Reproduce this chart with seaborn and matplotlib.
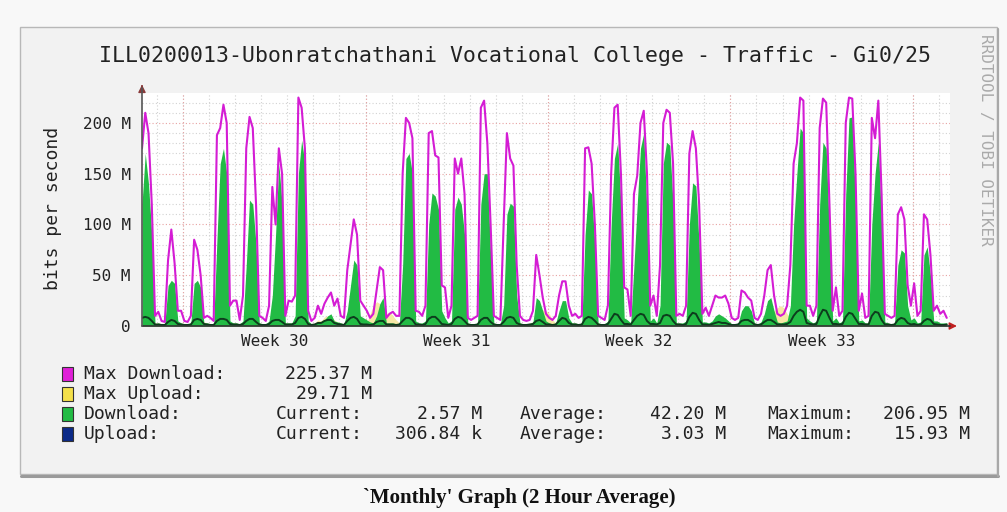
import numpy as np
import matplotlib
matplotlib.use("Agg")
import matplotlib.pyplot as plt
from matplotlib.patches import Rectangle
import seaborn as sns

# 2 hour averages resampled to 3 hour steps, values in Mbit/s
hours = np.arange(0, 744, 3)

max_download = [
    175, 210, 190, 120, 10, 14, 5, 4,
    65, 95, 62, 15, 15, 5, 4, 10,
    85, 75, 50, 8, 10, 8, 5, 188,
    195, 218, 200, 20, 25, 25, 6, 30,
    175, 206, 195, 120, 10, 8, 5, 20,
    137, 100, 175, 150, 10, 25, 24, 30,
    225, 215, 175, 15, 5, 8, 20, 12,
    22, 28, 33, 20, 27, 10, 8, 55,
    80, 105, 90, 25, 20, 15, 8, 12,
    35, 58, 55, 8, 12, 14, 10, 10,
    150, 205, 200, 185, 15, 14, 10, 20,
    190, 192, 168, 166, 40, 38, 8, 20,
    165, 150, 165, 130, 8, 6, 8, 10,
    215, 222, 180, 100, 10, 8, 6, 100,
    190, 165, 158, 60, 10, 6, 5, 6,
    15, 70, 50, 28, 12, 8, 6, 10,
    30, 44, 44, 20, 10, 12, 8, 10,
    175, 176, 160, 100, 10, 8, 6, 20,
    150, 215, 218, 150, 38, 36, 10, 130,
    148, 200, 212, 150, 20, 30, 10, 60,
    200, 213, 210, 160, 10, 12, 10, 20,
    170, 192, 175, 120, 12, 18, 10, 20,
    30, 28, 28, 30, 22, 8, 6, 8,
    35, 33, 28, 25, 8, 6, 12, 30,
    55, 60, 30, 12, 10, 12, 20, 60,
    160, 180, 225, 222, 20, 20, 10, 20,
    195, 224, 220, 120, 15, 38, 10, 15,
    200, 225, 224, 150, 15, 32, 8, 10,
    205, 185, 222, 130, 12, 10, 8, 10,
    110, 117, 105, 40, 20, 42, 10, 15,
    110, 105, 70, 15, 20, 12, 15, 8,
]

download = [
    120, 170, 140, 90, 2, 3, 2, 2,
    40, 45, 42, 5, 3, 2, 2, 3,
    42, 45, 38, 3, 3, 2, 2, 85,
    160, 175, 150, 5, 3, 3, 2, 5,
    60, 124, 120, 80, 3, 2, 2, 5,
    30, 90, 160, 120, 3, 3, 3, 10,
    150, 183, 160, 5, 2, 2, 4, 3,
    6, 10, 12, 5, 4, 3, 2, 15,
    40, 65, 60, 10, 8, 6, 4, 3,
    10, 22, 28, 3, 3, 3, 2, 3,
    60, 165, 170, 150, 5, 3, 3, 5,
    100, 131, 128, 115, 15, 8, 3, 5,
    115, 127, 120, 90, 3, 2, 2, 3,
    120, 150, 150, 70, 3, 2, 2, 20,
    110, 121, 118, 30, 3, 2, 2, 2,
    4, 28, 25, 15, 5, 3, 2, 3,
    15, 25, 25, 8, 3, 3, 2, 3,
    90, 134, 130, 80, 3, 2, 2, 5,
    100, 165, 180, 120, 8, 6, 3, 60,
    120, 175, 190, 110, 5, 8, 3, 20,
    160, 181, 178, 120, 3, 3, 3, 5,
    100, 141, 138, 80, 4, 4, 3, 5,
    10, 12, 10, 8, 5, 2, 2, 3,
    15, 20, 20, 15, 3, 2, 4, 12,
    25, 28, 15, 4, 3, 4, 5, 20,
    100, 150, 195, 190, 8, 5, 3, 5,
    120, 181, 175, 90, 5, 8, 3, 5,
    130, 205, 206, 120, 5, 6, 3, 3,
    100, 150, 181, 100, 4, 3, 2, 3,
    60, 75, 72, 20, 6, 8, 3, 4,
    70, 78, 50, 5, 5, 3, 3, 3,
]

upload = [
    8, 9, 8, 5, 1.5, 1.5, 1, 1,
    4, 6, 5, 2, 1.5, 1, 1, 1.5,
    6, 7, 6, 2, 1.5, 1, 1, 5,
    7, 7, 6, 2, 1.5, 1.5, 1, 2,
    5, 7, 7, 4, 1.5, 1, 1, 2,
    5, 6, 6, 4, 1.5, 1.5, 1.5, 3,
    8, 9, 7, 2, 1, 1.5, 3, 3,
    5, 6, 6, 3, 2, 1.5, 1, 5,
    8, 9, 7, 2, 1.5, 1.5, 1, 1.5,
    4, 5, 5, 1.5, 1.5, 1.5, 1, 1.5,
    5, 8, 8, 6, 1.5, 1.5, 1, 2,
    7, 9, 9, 6, 2, 1.5, 1, 2,
    7, 9, 8, 5, 1.5, 1, 1, 1.5,
    6, 8, 8, 4, 1.5, 1, 1, 4,
    8, 9, 8, 3, 1.5, 1, 1, 1.5,
    2, 5, 6, 4, 1.5, 1.5, 1, 1.5,
    5, 8, 7, 3, 1.5, 1.5, 1, 1.5,
    7, 9, 8, 5, 1.5, 1, 1, 2,
    7, 12, 11, 6, 2, 2, 1.5, 6,
    10, 12, 11, 5, 2, 2, 1.5, 3,
    10, 11, 10, 5, 1.5, 1.5, 1, 2,
    9, 13, 12, 6, 1.5, 1.5, 1, 2,
    3, 4, 3, 3, 2, 1, 1, 1.5,
    5, 6, 6, 4, 1.5, 1, 1.5, 4,
    6, 6, 4, 1.5, 1.5, 1.5, 2, 4,
    10, 14, 16, 14, 3, 2, 1.5, 2,
    10, 16, 15, 8, 2, 2, 1.5, 2,
    9, 13, 12, 7, 2, 2, 1.5, 1.5,
    10, 14, 13, 6, 1.5, 1.5, 1, 1.5,
    6, 8, 7, 3, 1.5, 2, 1, 1.5,
    5, 7, 6, 2, 1.5, 1, 1, 1.5,
]

max_upload = [
    12, 14, 12, 8, 3, 3, 2, 2,
    7, 10, 8, 4, 3, 2, 2, 3,
    9, 11, 9, 4, 3, 2, 2, 8,
    11, 12, 10, 4, 3, 3, 2, 4,
    8, 11, 11, 7, 3, 2, 2, 4,
    8, 10, 10, 7, 3, 3, 3, 5,
    13, 15, 12, 4, 2, 3, 6, 5,
    9, 10, 10, 6, 4, 3, 2, 8,
    12, 14, 11, 4, 3, 3, 12, 20,
    24, 22, 15, 12, 14, 10, 6, 3,
    8, 12, 12, 9, 3, 3, 2, 4,
    11, 14, 14, 9, 4, 3, 2, 4,
    11, 14, 12, 8, 3, 2, 2, 3,
    9, 12, 12, 7, 3, 2, 2, 7,
    12, 14, 12, 6, 3, 2, 2, 3,
    4, 10, 14, 16, 15, 12, 6, 3,
    12, 14, 12, 6, 3, 3, 2, 3,
    11, 14, 12, 8, 3, 2, 2, 4,
    11, 18, 17, 10, 4, 4, 3, 9,
    15, 18, 17, 8, 4, 4, 3, 5,
    15, 17, 15, 8, 3, 3, 2, 4,
    14, 20, 18, 10, 3, 3, 2, 4,
    6, 7, 6, 6, 4, 2, 2, 3,
    8, 10, 10, 7, 3, 2, 3, 7,
    10, 10, 15, 18, 20, 18, 12, 8,
    15, 22, 29.71, 24, 6, 4, 3, 4,
    15, 24, 22, 13, 4, 4, 3, 4,
    14, 20, 18, 11, 4, 4, 3, 3,
    15, 21, 19, 10, 3, 3, 2, 3,
    10, 12, 11, 6, 3, 4, 2, 3,
    8, 11, 10, 4, 3, 2, 2, 3,
]

week_labels = ["Week 30", "Week 31", "Week 32", "Week 33"]
week_starts = [37.8, 205.8, 373.8, 541.8, 709.8]
y_ticks = [0, 50, 100, 150, 200]
y_tick_labels = ["0", "50 M", "100 M", "150 M", "200 M"]

legend_rows = [
    ("Max Download:", "#e020d8", "225.37 M", None, None, None),
    ("Max Upload:", "#f4e04a", "29.71 M", None, None, None),
    ("Download:", "#22bb44", None, "2.57 M", "42.20 M", "206.95 M"),
    ("Upload:", "#0b2a88", None, "306.84 k", "3.03 M", "15.93 M"),
]

sns.set_style("white")
plt.rcParams["font.family"] = ["DejaVu Sans Mono", "DejaVu Sans"]

W, H = 1007, 512
fig = plt.figure(figsize=(W / 100, H / 100), dpi=100, facecolor="#f8f8f8")


def fx(px):
    return px / W


def fy(py):
    return 1 - py / H


# outer graph frame
fig.patches.append(Rectangle((fx(20), fy(474)), fx(977), 447 / H,
                             transform=fig.transFigure, facecolor="#f2f2f2",
                             edgecolor="#b8b8b8", lw=1, zorder=-5))
fig.add_artist(plt.Line2D([fx(21), fx(998)], [fy(476), fy(476)],
                          transform=fig.transFigure, color="#9a9a9a", lw=2.2, zorder=-4))
fig.add_artist(plt.Line2D([fx(998), fx(998)], [fy(29), fy(476)],
                          transform=fig.transFigure, color="#a8a8a8", lw=1.6, zorder=-4))

ax = fig.add_axes([fx(142), fy(326), fx(808), 233.5 / H])
ax.set_zorder(2)
ax.set_facecolor("white")
ax.set_xlim(0, 744)
ax.set_ylim(0, 230)
for s in ax.spines.values():
    s.set_visible(False)

# grid
dots = (0, (1, 2))
for v in range(10, 230, 10):
    major = v % 50 == 0
    ax.axhline(v, color="#e7a2a2" if major else "#d2d2d2", lw=0.8, ls=dots, zorder=0)
for d in np.arange(13.8, 744, 24):
    ax.axvline(d, color="#d2d2d2", lw=0.8, ls=dots, zorder=0)
for w in week_starts:
    ax.axvline(w, color="#e7a2a2", lw=0.8, ls=dots, zorder=0)

# data
ax.fill_between(hours, max_upload, color="#f6e9a6", lw=0, zorder=1)
ax.fill_between(hours, download, color="#22bb44", lw=0, zorder=2)
sns.lineplot(x=hours, y=max_download, ax=ax, color="#d41cd4", lw=1.5, zorder=3)
sns.lineplot(x=hours, y=upload, ax=ax, color="#0d3d1d", lw=1.4, zorder=4)
ax.set_xlabel("")
ax.set_ylabel("")

# axes with arrows
ax.plot([0, 1.0], [0, 0], transform=ax.transAxes, color="#333333", lw=1.2,
        clip_on=False, zorder=5)
ax.plot([0, 0], [0, 1.02], transform=ax.transAxes, color="#555555", lw=1.2,
        clip_on=False, zorder=5)
ax.annotate("", xy=(1.012, 0), xytext=(0.998, 0), xycoords="axes fraction",
            arrowprops=dict(arrowstyle="-|>", color="#c02020", lw=1, mutation_scale=11))
ax.annotate("", xy=(0, 1.045), xytext=(0, 1.015), xycoords="axes fraction",
            arrowprops=dict(arrowstyle="-|>", color="#8a3a3a", lw=1, mutation_scale=11))

ax.set_yticks(y_ticks, y_tick_labels)
week_mid = [(a + b) / 2 for a, b in zip(week_starts[:-1], week_starts[1:])]
ax.set_xticks(week_mid, week_labels)
ax.tick_params(axis="y", length=0, pad=8, labelsize=11.5, labelcolor="#222222")
ax.tick_params(axis="x", length=0, pad=6, labelsize=11.5, labelcolor="#222222")

# texts
fig.text(fx(515), fy(56),
         "ILL0200013-Ubonratchathani Vocational College - Traffic - Gi0/25",
         ha="center", va="center", fontsize=15.5, color="#222222")
fig.text(fx(53), fy(208), "bits per second", rotation=90, ha="center",
         va="center", fontsize=13, color="#222222")
fig.text(fx(985), fy(140), "RRDTOOL / TOBI OETIKER", rotation=270, ha="center",
         va="center", fontsize=11.5, color="#aaaaaa")

row_y = [374, 394, 414, 434]
for (label, col, val, cur, avg, mx), y in zip(legend_rows, row_y):
    fig.patches.append(Rectangle((fx(62), fy(y + 7)), fx(11), 14 / H,
                                 transform=fig.transFigure, facecolor=col,
                                 edgecolor="#333333", lw=0.8))
    fig.text(fx(84), fy(y), label, ha="left", va="center", fontsize=13, color="#222222")
    if val is not None:
        fig.text(fx(372), fy(y), val, ha="right", va="center", fontsize=13, color="#222222")
    if cur is not None:
        fig.text(fx(276), fy(y), "Current:", ha="left", va="center", fontsize=13, color="#222222")
        fig.text(fx(482), fy(y), cur, ha="right", va="center", fontsize=13, color="#222222")
        fig.text(fx(520), fy(y), "Average:", ha="left", va="center", fontsize=13, color="#222222")
        fig.text(fx(726), fy(y), avg, ha="right", va="center", fontsize=13, color="#222222")
        fig.text(fx(767), fy(y), "Maximum:", ha="left", va="center", fontsize=13, color="#222222")
        fig.text(fx(970), fy(y), mx, ha="right", va="center", fontsize=13, color="#222222")

fig.text(fx(519), fy(498), "`Monthly' Graph (2 Hour Average)", ha="center",
         va="center", fontsize=15, fontweight="bold", family="Liberation Serif",
         color="#111111")

fig.savefig("out.png", dpi=100, facecolor=fig.get_facecolor())
